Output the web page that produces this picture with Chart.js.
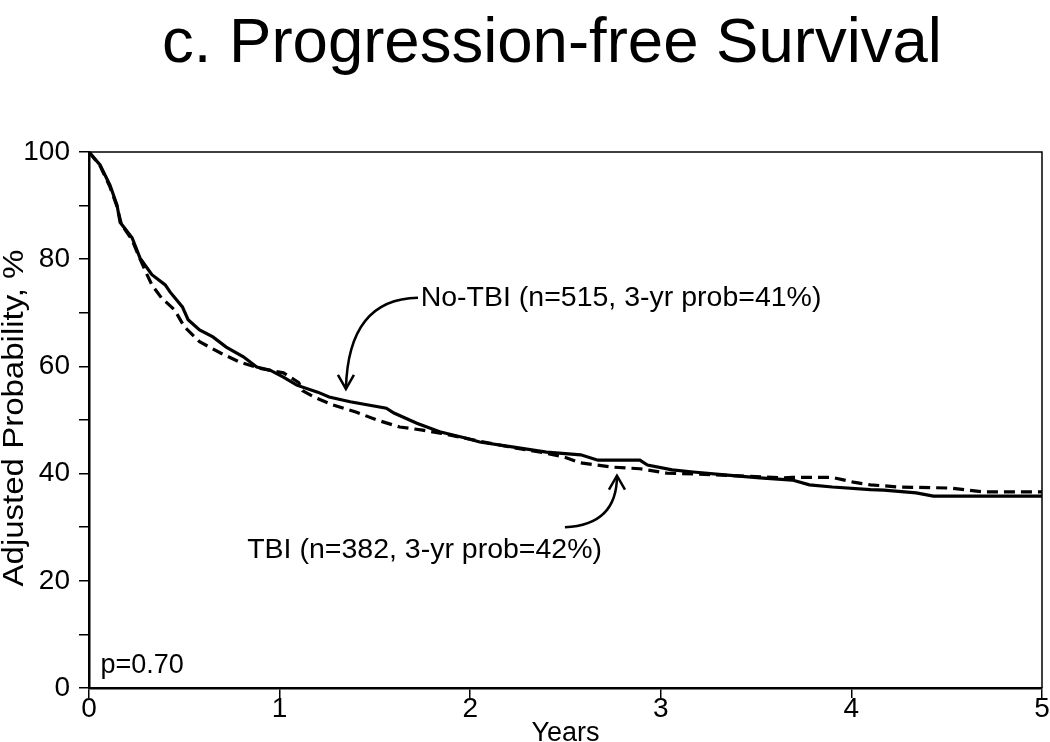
<!DOCTYPE html>
<html>
<head>
<meta charset="utf-8">
<script src="https://cdn.jsdelivr.net/npm/chart.js@4.4.1/dist/chart.umd.min.js"></script>
<style>
  html, body { margin: 0; padding: 0; background: #fff; }
  #wrap { width: 1050px; height: 742px; position: relative; }
</style>
</head>
<body>
<div id="wrap"><canvas id="pfs"></canvas></div>
<script>
// Adjusted progression-free survival (years, %)
const noTbiYears = [0, 0.058, 0.11, 0.147, 0.163, 0.226, 0.268, 0.33, 0.40, 0.425, 0.49, 0.52, 0.58, 0.65, 0.72, 0.81, 0.88, 0.95, 1.02, 1.09, 1.2, 1.26, 1.37, 1.56, 1.60, 1.72, 1.84, 1.98, 2.05, 2.22, 2.40, 2.58, 2.67, 2.89, 2.93, 3.06, 3.17, 3.35, 3.52, 3.69, 3.78, 3.9, 4.1, 4.17, 4.34, 4.43, 5.0];
const noTbiProb  = [100, 97.6, 93.8, 90.1, 86.9, 84.0, 80.2, 77.1, 75.2, 73.9, 71.1, 68.7, 66.8, 65.5, 63.6, 61.8, 59.9, 59.3, 58.0, 56.5, 55.2, 54.3, 53.4, 52.2, 51.3, 49.4, 47.8, 46.6, 45.9, 45.0, 44.0, 43.5, 42.5, 42.5, 41.6, 40.7, 40.3, 39.7, 39.2, 38.8, 37.9, 37.5, 37.0, 36.9, 36.4, 35.8, 35.8];

const tbiYears = [0, 0.058, 0.11, 0.147, 0.17, 0.226, 0.268, 0.31, 0.33, 0.38, 0.45, 0.50, 0.58, 0.69, 0.79, 0.9, 1.02, 1.1, 1.12, 1.18, 1.28, 1.40, 1.51, 1.63, 1.75, 1.85, 2.0, 2.2, 2.4, 2.5, 2.58, 2.75, 2.89, 3.03, 3.2, 3.45, 3.64, 3.69, 3.9, 4.01, 4.1, 4.25, 4.52, 4.69, 5.0];
const tbiProb  = [100, 97.4, 93.5, 89.8, 86.5, 83.6, 80.0, 76.7, 75.2, 72.8, 70.5, 67.4, 64.6, 62.5, 60.8, 59.6, 58.8, 57.0, 55.5, 54.3, 52.8, 51.5, 50.0, 48.7, 48.1, 47.5, 46.4, 45.0, 43.8, 43.0, 42.0, 41.2, 40.9, 40.1, 39.9, 39.5, 39.2, 39.3, 39.3, 38.4, 37.9, 37.5, 37.3, 36.6, 36.6];

const xTicks = [0, 1, 2, 3, 4, 5];
const yTickLabels = [0, 20, 40, 60, 80, 100];

const titleText = 'c. Progression-free Survival';
const xTitle = 'Years';
const yTitle = 'Adjusted Probability, %';
const noTbiLabel = 'No-TBI (n=515, 3-yr prob=41%)';
const tbiLabel = 'TBI (n=382, 3-yr prob=42%)';
const pLabel = 'p=0.70';

const FONT = '"Liberation Sans", Arial, Helvetica, sans-serif';

const toPoints = (xs, ys) => xs.map((x, i) => ({ x: x, y: ys[i] }));

function drawText(ctx, text, x, y, size, align, baseline, angle, stretch) {
  ctx.save();
  ctx.translate(x, y);
  if (angle) ctx.rotate(angle);
  if (stretch) ctx.scale(stretch, 1);
  ctx.font = size + 'px ' + FONT;
  ctx.textAlign = align;
  ctx.textBaseline = baseline;
  ctx.fillText(text, 0, 0);
  ctx.restore();
}

// title, frame, axis titles and the two labelled arrows
const extras = {
  id: 'extras',
  afterDraw(chart) {
    const { ctx, chartArea: a, scales } = chart;
    const px = v => scales.x.getPixelForValue(v);
    const py = v => scales.y.getPixelForValue(v);
    ctx.save();
    ctx.fillStyle = '#000';
    ctx.strokeStyle = '#000';

    drawText(ctx, titleText, 552, 62, 63.5, 'center', 'alphabetic');

    // top and right frame
    ctx.lineWidth = 1.5;
    ctx.beginPath();
    ctx.moveTo(a.left, a.top);
    ctx.lineTo(a.right, a.top);
    ctx.lineTo(a.right, a.bottom);
    ctx.stroke();

    drawText(ctx, xTitle, (a.left + a.right) / 2, 741, 27, 'center', 'alphabetic');
    drawText(ctx, yTitle, 15, (a.top + a.bottom) / 2 - 2, 30, 'center', 'middle', -Math.PI / 2, 1.1);

    drawText(ctx, noTbiLabel, px(1.74), py(72.8), 28.5, 'left', 'middle');
    drawText(ctx, tbiLabel, px(0.83), py(25.7), 28.5, 'left', 'middle');
    drawText(ctx, pLabel, px(0.06), py(2.8), 27, 'left', 'alphabetic');

    const arrow = (sx, sy, cx, cy, tx, ty, up) => {
      ctx.lineWidth = 2.5;
      ctx.beginPath();
      ctx.moveTo(px(sx), py(sy));
      ctx.quadraticCurveTo(px(cx), py(cy), px(tx), py(ty));
      ctx.stroke();
      const d = up ? 1 : -1;
      ctx.beginPath();
      ctx.moveTo(px(tx) - 8, py(ty) + d * 14);
      ctx.lineTo(px(tx), py(ty));
      ctx.lineTo(px(tx) + 8, py(ty) + d * 14);
      ctx.stroke();
    };
    arrow(1.726, 72.8, 1.36, 72.6, 1.348, 55.8, false);
    arrow(2.497, 30.0, 2.77, 30.4, 2.77, 39.6, true);
    ctx.restore();
  }
};

new Chart(document.getElementById('pfs'), {
  type: 'line',
  data: {
    datasets: [
      {
        label: 'No-TBI',
        data: toPoints(noTbiYears, noTbiProb),
        borderColor: '#000',
        borderWidth: 3.2,
        pointRadius: 0,
        tension: 0,
        fill: false
      },
      {
        label: 'TBI',
        data: toPoints(tbiYears, tbiProb),
        borderColor: '#000',
        borderWidth: 3.2,
        borderDash: [11, 6],
        pointRadius: 0,
        tension: 0,
        fill: false
      }
    ]
  },
  options: {
    responsive: true,
    maintainAspectRatio: false,
    animation: false,
    layout: { padding: { top: 152, right: 8, left: 0, bottom: 0 } },
    plugins: {
      legend: { display: false },
      tooltip: { enabled: false }
    },
    scales: {
      x: {
        type: 'linear',
        min: 0,
        max: 5,
        afterFit: s => { s.height = 54; },
        afterBuildTicks: s => { s.ticks = xTicks.map(v => ({ value: v })); },
        grid: { drawOnChartArea: false, drawTicks: true, tickLength: 10, color: '#000', lineWidth: 1.5 },
        border: { display: true, color: '#000', width: 2.5 },
        ticks: { color: '#000', font: { family: FONT, size: 28 }, padding: -6, maxRotation: 0 }
      },
      y: {
        min: 0,
        max: 100,
        afterFit: s => { s.width = 89; },
        ticks: {
          stepSize: 10,
          color: '#000',
          font: { family: FONT, size: 28 },
          padding: 9,
          callback: v => yTickLabels.includes(v) ? String(v) : ''
        },
        grid: { drawOnChartArea: false, drawTicks: true, tickLength: 10, color: '#000', lineWidth: 1.5 },
        border: { display: true, color: '#000', width: 2.5 }
      }
    }
  },
  plugins: [extras]
});
</script>
</body>
</html>
